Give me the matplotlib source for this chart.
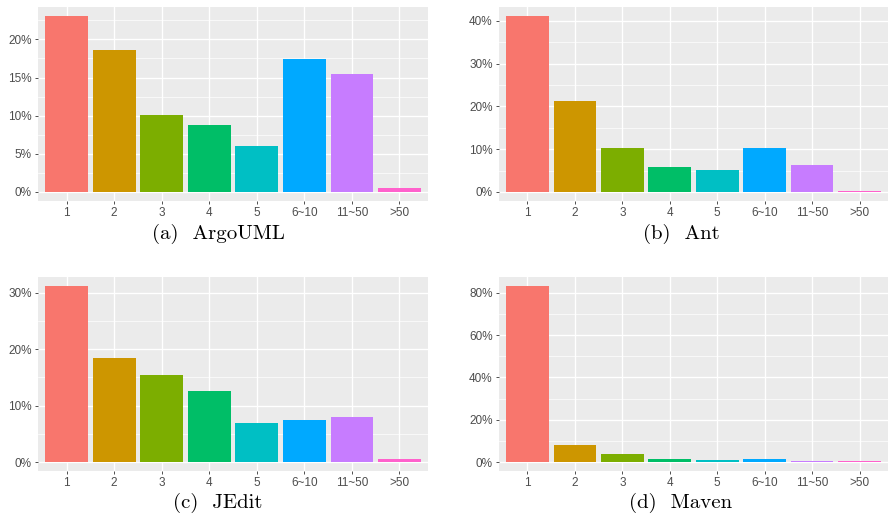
import numpy as np
import matplotlib
matplotlib.use("Agg")
import matplotlib.pyplot as plt
from matplotlib import font_manager
from matplotlib.ticker import MultipleLocator, FuncFormatter

# categorias (numero de ...)
categorias = ["1", "2", "3", "4", "5", "6~10", "11~50", ">50"]
colores = ["#F8766D", "#CD9600", "#7CAE00", "#00BE67",
           "#00BFC4", "#00A9FF", "#C77CFF", "#FF61CC"]

# porcentajes
argouml = [23.1, 18.6, 10.1, 8.75, 6.0, 17.4, 15.45, 0.5]
ant = [41.2, 21.25, 10.2, 5.8, 5.1, 10.2, 6.25, 0.2]
jedit = [31.2, 18.4, 15.4, 12.6, 6.95, 7.5, 8.0, 0.6]
maven = [83.3, 8.2, 3.9, 1.6, 1.1, 1.6, 0.6, 0.35]

titulos = ["(a)  ArgoUML", "(b)  Ant", "(c)  JEdit", "(d)  Maven"]
pasos = [5, 10, 10, 20]

# fuente tipo Arial para los ticks (evitar la version Narrow)
fuente_ticks = None
for f in font_manager.findSystemFonts():
    if f.endswith("LiberationSans-Regular.ttf"):
        fuente_ticks = font_manager.FontProperties(fname=f, size=8.5)
        break
if fuente_ticks is None:
    fuente_ticks = font_manager.FontProperties(family="DejaVu Sans", size=8)

W, H = 894, 523
fig = plt.figure(figsize=(W / 100, H / 100), dpi=100)

# cajas en pixeles: izquierda, derecha, arriba, abajo
cajas = [(38, 428, 7, 200.7), (499, 888, 7, 200.7),
         (38, 428, 277, 471), (499, 888, 277, 471)]
centros_titulo = [(218, 234), (681, 234), (218, 503), (681, 503)]

datos = [argouml, ant, jedit, maven]

for k in range(4):
    l, r, t, b = cajas[k]
    ax = fig.add_axes([l / W, 1 - b / H, (r - l) / W, (b - t) / H])
    ax.set_facecolor("#EBEBEB")
    x = np.arange(1, len(categorias) + 1)
    vals = datos[k]
    ax.bar(x, vals, width=0.9, color=colores, zorder=3)

    top = max(vals)
    ax.set_xlim(0.4, len(categorias) + 0.6)
    ax.set_ylim(-0.05 * top, top * 1.05)

    paso = pasos[k]
    ax.yaxis.set_major_locator(MultipleLocator(paso))
    ax.yaxis.set_minor_locator(MultipleLocator(paso / 2))
    ax.yaxis.set_major_formatter(FuncFormatter(lambda v, p: f"{v:.0f}%"))
    ax.set_xticks(x)
    ax.set_xticklabels(categorias)

    ax.grid(which="major", color="white", linewidth=0.95, zorder=0)
    ax.grid(which="minor", axis="y", color="white", linewidth=0.5, zorder=0)
    ax.set_axisbelow(True)

    for s in ax.spines.values():
        s.set_visible(False)
    ax.tick_params(which="major", length=2.5, width=0.6, color="#333333",
                   labelcolor="#4D4D4D", pad=2)
    ax.tick_params(which="minor", length=0)
    for lab in ax.get_xticklabels() + ax.get_yticklabels():
        lab.set_fontproperties(fuente_ticks)

    cx, cy = centros_titulo[k]
    fig.text(cx / W, 1 - cy / H, titulos[k], family="cmr10", fontsize=15,
             ha="center", va="center")

fig.savefig("out.png", dpi=100)
